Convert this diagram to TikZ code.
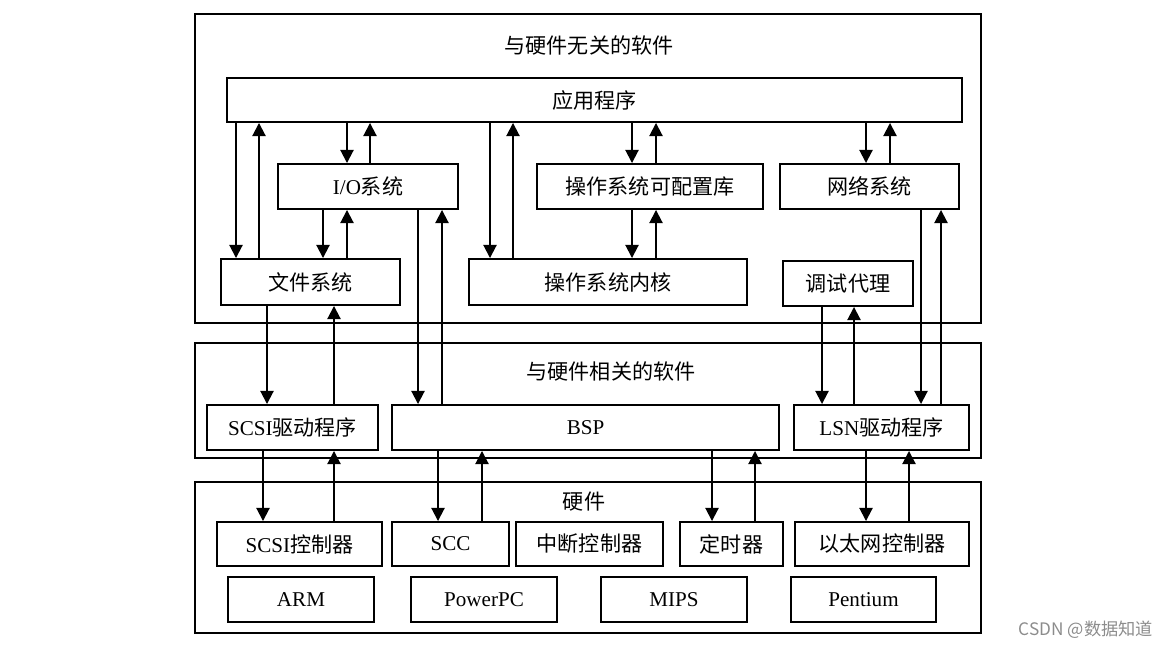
\documentclass[tikz,border=0pt]{standalone}
\usepackage{fontspec}
\setmainfont{Liberation Serif}
\newfontfamily\cjk{Noto Sans CJK SC}
\usetikzlibrary{arrows.meta,fit,positioning}

\tikzset{
  box/.style={draw, line width=1.1pt, inner sep=0pt, minimum height=0.9cm, font=\fontsize{12}{14}\selectfont},
  layer/.style={draw, line width=1.1pt, inner sep=0pt},
  title/.style={font=\cjk\fontsize{12}{14}\selectfont},
  link/.style={->, line width=1.1pt},
  >={Triangle[length=7.5pt,width=7.5pt]}
}

\begin{document}
\begin{tikzpicture}[x=0.02cm, y=-0.02cm]
\useasboundingbox (0,0) rectangle (1168,648);

% layers
\node[layer, fit={(195,14) (981,323)}] (soft) {};
\node[layer, fit={(195,343) (981,458)}] (hsoft) {};
\node[layer, fit={(195,482) (981,633)}] (hw) {};
\node[title] (t1) at (589,45) {与硬件无关的软件};
\node[title] (t2) at (611,371) {与硬件相关的软件};
\node[title] (t3) at (584,502) {硬件};

% software
\node[box, minimum width=14.7cm, minimum height=0.88cm] (app) at (594.5,100) {\cjk 应用程序};
\node[box, minimum width=3.6cm] (io) at (368,186.5) {I/O{\cjk 系统}};
\node[box, minimum width=4.52cm] (lib) at (650,186.5) {\cjk 操作系统可配置库};
\node[box, minimum width=3.58cm] (net) at (869.5,186.5) {\cjk 网络系统};
\node[box, minimum width=3.58cm, minimum height=0.92cm] (fs) at (310.5,282) {\cjk 文件系统};
\node[box, minimum width=5.56cm, minimum height=0.92cm] (kern) at (608,282) {\cjk 操作系统内核};
\node[box, minimum width=2.6cm] (dbg) at (848,283.5) {\cjk 调试代理};

% drivers
\node[box, minimum width=3.42cm] (scsi) at (292.5,427.5) {SCSI{\cjk 驱动程序}};
\node[box, minimum width=7.74cm] (bsp) at (585.5,427.5) {BSP};
\node[box, minimum width=3.5cm] (lsn) at (881.5,427.5) {LSN{\cjk 驱动程序}};

% hardware
\node[box, minimum width=3.3cm, minimum height=0.88cm] (scsic) at (299.5,544) {SCSI{\cjk 控制器}};
\node[box, minimum width=2.34cm, minimum height=0.88cm] (scc) at (450.5,544) {SCC};
\node[box, minimum width=2.94cm, minimum height=0.88cm] (irq) at (589.5,544) {\cjk 中断控制器};
\node[box, minimum width=2.06cm, minimum height=0.88cm] (timer) at (731.5,544) {\cjk 定时器};
\node[box, minimum width=3.48cm, minimum height=0.88cm] (eth) at (882,544) {\cjk 以太网控制器};
\node[box, minimum width=2.92cm] (arm) at (301,599.5) {ARM};
\node[box, minimum width=2.92cm] (ppc) at (484,599.5) {PowerPC};
\node[box, minimum width=2.92cm] (mips) at (674,599.5) {MIPS};
\node[box, minimum width=2.9cm] (pent) at (863.5,599.5) {Pentium};

% down/up pairs
\foreach \a/\b/\d/\u in {app/fs/236/259, app/io/347/370, io/fs/323/347,
    app/kern/490/513, app/lib/632/656, lib/kern/632/656, app/net/866/890,
    io/bsp/418/442, net/lsn/921/941, dbg/lsn/822/854, fs/scsi/267/334,
    scsi/scsic/263/334, bsp/scc/438/482, bsp/timer/712/755, lsn/eth/866/909}
{
\draw[link] (\a.south -| \d,0) -- (\b.north -| \d,0);
\draw[link] (\b.north -| \u,0) -- (\a.south -| \u,0);
}

\node[text=black!45, font=\cjk\fontsize{9.8}{11}\selectfont] (mark) at (1086,630) {CSDN @数据知道};
\end{tikzpicture}
\end{document}
